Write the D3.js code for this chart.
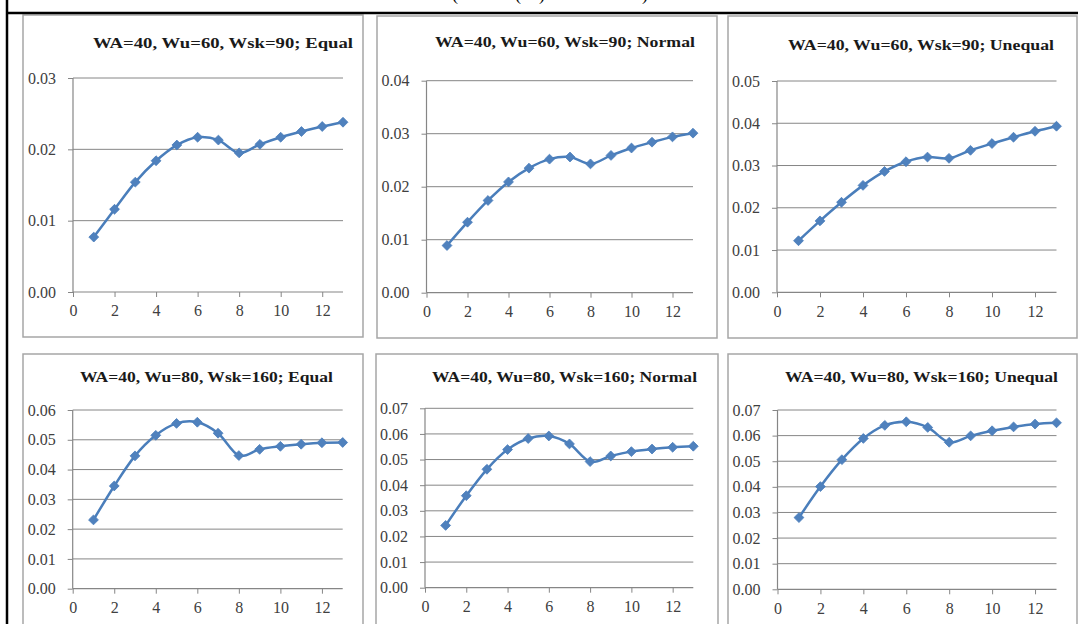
<!DOCTYPE html>
<html lang="en">
<head>
    <meta charset="UTF-8" />
    <title>Six small line charts</title>
    <script src="https://d3js.org/d3.v7.min.js"></script>
    <style>
        body {
            margin: 0;
            background: #fff;
        }
        svg {
            display: block;
        }
        .title {
            font-family: "Liberation Serif", "DejaVu Serif", serif;
            font-size: 15px;
            font-weight: bold;
            fill: #1a1a1a;
        }
    </style>
</head>
<body>
    <svg id="chart" width="1078" height="624"></svg>

    <script>
        // x values shared by all panels
        const steps = [1, 2, 3, 4, 5, 6, 7, 8, 9, 10, 11, 12, 13];
        const xTicks = [0, 2, 4, 6, 8, 10, 12];

        // panel titles
        const titles = [
            "WA=40, Wu=60, Wsk=90; Equal",
            "WA=40, Wu=60, Wsk=90; Normal",
            "WA=40, Wu=60, Wsk=90; Unequal",
            "WA=40, Wu=80, Wsk=160; Equal",
            "WA=40, Wu=80, Wsk=160; Normal",
            "WA=40, Wu=80, Wsk=160; Unequal"
        ];

        // y axis maximum per panel
        const yMax = [0.03, 0.04, 0.05, 0.06, 0.07, 0.07];

        // series values
        const equal60 = [0.0077, 0.0116, 0.0154, 0.0184, 0.0206, 0.0217, 0.0213, 0.0195, 0.0207, 0.0217, 0.0225, 0.0232, 0.0238];
        const normal60 = [0.0089, 0.0133, 0.0174, 0.0209, 0.0235, 0.0252, 0.0256, 0.0243, 0.0259, 0.0273, 0.0284, 0.0294, 0.0301];
        const unequal60 = [0.0122, 0.0169, 0.0213, 0.0253, 0.0286, 0.0309, 0.0320, 0.0317, 0.0336, 0.0352, 0.0367, 0.0381, 0.0393];
        const equal80 = [0.0231, 0.0345, 0.0446, 0.0515, 0.0555, 0.0559, 0.0522, 0.0447, 0.0468, 0.0478, 0.0485, 0.0490, 0.0491];
        const normal80 = [0.0243, 0.0359, 0.0462, 0.0539, 0.0582, 0.0592, 0.0561, 0.0492, 0.0514, 0.0531, 0.0541, 0.0548, 0.0552];
        const unequal80 = [0.0280, 0.0401, 0.0506, 0.0589, 0.0640, 0.0654, 0.0632, 0.0574, 0.0599, 0.0619, 0.0634, 0.0645, 0.0650];

        const series = [equal60, normal60, unequal60, equal80, normal80, unequal80];

        // layout of each panel: frame box, plot area, title placement
        const layout = [
            { box: [23, 15, 363, 337], plot: [73, 343, 292, 78], title: [93, 353, 48] },
            { box: [377, 16, 717, 338], plot: [426.5, 693, 292.7, 80.7], title: [435, 695, 47] },
            { box: [728, 16, 1077, 338], plot: [777, 1056.5, 292.3, 81], title: [788, 1054, 50] },
            { box: [23, 354, 363, 640], plot: [72.7, 342.7, 588.7, 410], title: [80, 333, 382] },
            { box: [376, 354, 718, 640], plot: [425, 693.3, 587.7, 408.3], title: [432, 697, 382] },
            { box: [728, 354, 1077, 640], plot: [777.5, 1056.5, 589.3, 410], title: [785, 1058, 382] }
        ];

        const svg = d3.select("#chart");
        const lineColor = "#4a7ebb";
        const gridColor = "#868686";
        const serif = "'Liberation Serif', 'DejaVu Serif', serif";

        // cut-off heading at the very top (only the bottoms show)
        [[455, "("], [518, "("], [542, ")"], [645, ")"]].forEach(([x, ch]) => {
            svg.append("text")
                .attr("x", x).attr("y", 0)
                .attr("text-anchor", "middle")
                .style("font-family", serif)
                .style("font-size", "18px")
                .attr("fill", "#000")
                .text(ch);
        });

        // panel frames
        layout.forEach(l => {
            const [x0, y0, x1, y1] = l.box;
            svg.append("rect")
                .attr("x", x0).attr("y", y0)
                .attr("width", x1 - x0).attr("height", y1 - y0)
                .attr("fill", "#fff")
                .attr("stroke", "#a6a6a6")
                .attr("stroke-width", 1.5);
        });

        // outer black frame lines
        svg.append("line")
            .attr("x1", 6).attr("x2", 1078).attr("y1", 13).attr("y2", 13)
            .attr("stroke", "#000").attr("stroke-width", 2.5);
        svg.append("line")
            .attr("x1", 7).attr("x2", 7).attr("y1", 0).attr("y2", 624)
            .attr("stroke", "#000").attr("stroke-width", 2.5);

        layout.forEach((l, i) => {
            const [px0, px1, py0, py1] = l.plot;
            const x = d3.scaleLinear().domain([0, 13]).range([px0, px1]);
            const y = d3.scaleLinear().domain([0, yMax[i]]).range([py0, py1]);
            const yTicks = d3.range(0, yMax[i] + 1e-9, 0.01);
            const g = svg.append("g");

            // horizontal gridlines
            g.selectAll(".grid")
                .data(yTicks.slice(1))
                .enter().append("line")
                .attr("x1", px0).attr("x2", px1)
                .attr("y1", d => y(d)).attr("y2", d => y(d))
                .attr("stroke", gridColor).attr("stroke-width", 1);

            // y axis
            const yAxis = d3.axisLeft(y)
                .tickValues(yTicks)
                .tickFormat(d3.format(".2f"))
                .tickSize(5)
                .tickPadding(12);
            const ya = g.append("g")
                .attr("transform", `translate(${px0},0)`)
                .call(yAxis);

            // x axis
            const xAxis = d3.axisBottom(x)
                .tickValues(xTicks)
                .tickSize(5)
                .tickPadding(8);
            const xa = g.append("g")
                .attr("transform", `translate(0,${py0})`)
                .call(xAxis);

            [ya, xa].forEach(a => {
                a.attr("font-family", null).attr("font-size", null);
                a.select(".domain").attr("stroke", gridColor).attr("stroke-width", 1.2);
                a.selectAll(".tick line").attr("stroke", gridColor);
                a.selectAll(".tick text")
                    .style("font-family", serif)
                    .style("font-size", "16px")
                    .attr("fill", "#404040");
            });
            xa.select(".domain").attr("d", `M${px0},0H${px1}`);
            ya.select(".domain").attr("d", `M0,${py0}V${py1}`);

            // series line, smoothed like the spreadsheet chart
            const line = d3.line()
                .x((d, j) => x(steps[j]))
                .y(d => y(d))
                .curve(d3.curveCardinal.tension(0));
            g.append("path")
                .datum(series[i])
                .attr("d", line)
                .attr("fill", "none")
                .attr("stroke", lineColor)
                .attr("stroke-width", 2.5);

            // diamond markers
            const diamond = d3.symbol().type(d3.symbolDiamond2).size(62);
            g.selectAll(".pt")
                .data(series[i])
                .enter().append("path")
                .attr("d", diamond)
                .attr("transform", (d, j) => `translate(${x(steps[j])},${y(d)})`)
                .attr("fill", "#4f81bd")
                .attr("stroke", "#4a7ebb")
                .attr("stroke-width", 0.8);

            // panel title
            const [tx0, tx1, ty] = l.title;
            g.append("text")
                .attr("class", "title")
                .attr("x", tx0).attr("y", ty)
                .attr("textLength", tx1 - tx0)
                .attr("lengthAdjust", "spacingAndGlyphs")
                .text(titles[i]);
        });
    </script>
</body>
</html>
